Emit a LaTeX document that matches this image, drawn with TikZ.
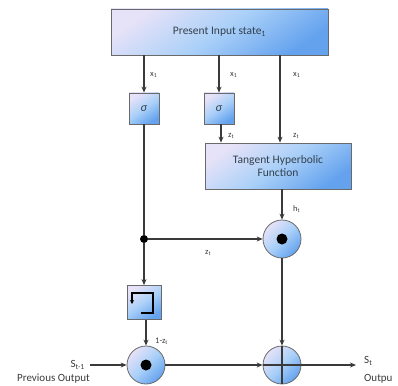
\documentclass[tikz,border=0pt]{standalone}
\usepackage{fontspec}
\setmainfont{Carlito}
\usetikzlibrary{arrows.meta}
\definecolor{boxlight}{HTML}{E6E2F8}
\definecolor{boxmid}{HTML}{AAD0F8}
\definecolor{boxdark}{HTML}{64A2EE}
\definecolor{edgec}{HTML}{6A6A6A}
\definecolor{linec}{HTML}{3A3A3A}
\definecolor{textc}{HTML}{34404C}
\begin{document}
\begin{tikzpicture}[x=1pt,y=-1pt,
  gbox/.style={draw=edgec, line width=0.8pt, left color=boxlight, right color=boxdark, middle color=boxmid, shading angle=35, align=center, inner sep=0pt, text=textc, font=\fontsize{11.5}{13.5}\selectfont},
  gcirc/.style={circle, draw=edgec, line width=0.8pt, left color=boxlight, right color=boxdark, middle color=boxmid, shading angle=45, minimum size=38pt, inner sep=0pt},
  conn/.style={draw=linec, line width=1.1pt},
  arr/.style={conn, -{Stealth[length=6pt,width=5pt]}},
  lbl/.style={font=\fontsize{8.5}{9}\selectfont, inner sep=0pt, anchor=west, text=linec},
  biglbl/.style={font=\fontsize{11}{13}\selectfont, inner sep=0pt, text=linec},
  dotc/.style={circle, fill=black, inner sep=0pt, minimum size=11pt}]
\useasboundingbox (0,0) rectangle (398,385);
% boxes
\node[gbox, minimum width=217pt, minimum height=46pt] (top) at (219.5,32) {Present Input state\textsubscript{1}};
\node[gbox, minimum width=30pt, minimum height=31pt, font=\fontsize{12}{12}\selectfont] (sig1) at (144,108.5) {\textit{σ}};
\node[gbox, minimum width=30pt, minimum height=31pt, font=\fontsize{12}{12}\selectfont] (sig2) at (219,108.5) {\textit{σ}};
\node[gbox, minimum width=146pt, minimum height=46pt] (tanh) at (278,166) {Tangent Hyperbolic\\Function};
\node[gbox, minimum width=34pt, minimum height=34pt] (reset) at (144,302.5) {};
\node[gcirc] (p1) at (282,239) {};
\node[dotc] (d1) at (p1) {};
\node[gcirc] (p2) at (146,365) {};
\node[dotc] (d2) at (p2) {};
\node[gcirc] (plus) at (282,365) {};
\node[circle, fill=black, inner sep=0pt, minimum size=8pt] (junc) at (144,239) {};
% reset icon
\coordinate (r1) at (141,313);
\coordinate (r2) at (153,313);
\coordinate (r3) at (153,293);
\coordinate (r4) at (132,293);
\coordinate (r5) at (132,304);
\draw[draw=black, line width=1.3pt, -{Stealth[length=4pt,width=4pt]}] (r1) -- (r2) -- (r3) -- (r4) -- (r5);
% free ends
\coordinate (c3) at (280,0);
\coordinate (c2) at (221,0);
\coordinate (inp) at (90,365);
\coordinate (outp) at (356,365);
% connectors
\draw[arr] (sig1 |- top.south) -- (sig1);
\draw[arr] (sig2 |- top.south) -- (sig2);
\draw[arr] (c3 |- top.south) -- (c3 |- tanh.north);
\draw[arr] (c2 |- sig2.south) -- (c2 |- tanh.north);
\draw[conn] (sig1) -- (junc);
\draw[arr] (junc) -- (p1);
\draw[arr] (tanh.south -| p1) -- (p1);
\draw[arr] (junc) -- (reset);
\draw[arr] (reset.south -| p2) -- (p2);
\draw[arr] (p1) -- (plus);
\draw[arr] (inp) -- (p2);
\draw[arr] (p2) -- (plus);
\draw[arr] (plus) -- (outp);
\draw[conn] (plus.north) -- (plus.south);
\draw[conn] (plus.west) -- (plus.east);
% labels
\node[lbl] (lx1) at (150,75) {x\textsubscript{1}};
\node[lbl] (lx2) at (230,75) {x\textsubscript{1}};
\node[lbl] (lx3) at (293,75) {x\textsubscript{1}};
\node[lbl] (lz1) at (228,136) {z\textsubscript{t}};
\node[lbl] (lz2) at (293,136) {z\textsubscript{t}};
\node[lbl] (lh) at (293,209) {h\textsubscript{t}};
\node[lbl] (lz3) at (205,253) {z\textsubscript{t}};
\node[lbl] (l1z) at (155,341) {1-z\textsubscript{t}};
\node[biglbl, anchor=east] (ls1) at (85,365) {S\textsubscript{t-1}};
\node[biglbl] (lprev) at (53.5,379) {Previous Output};
\node[biglbl, anchor=west] (lst) at (364,361) {S\textsubscript{t}};
\node[biglbl, anchor=west] (lout) at (364,379) {Outpu};
\end{tikzpicture}
\end{document}
